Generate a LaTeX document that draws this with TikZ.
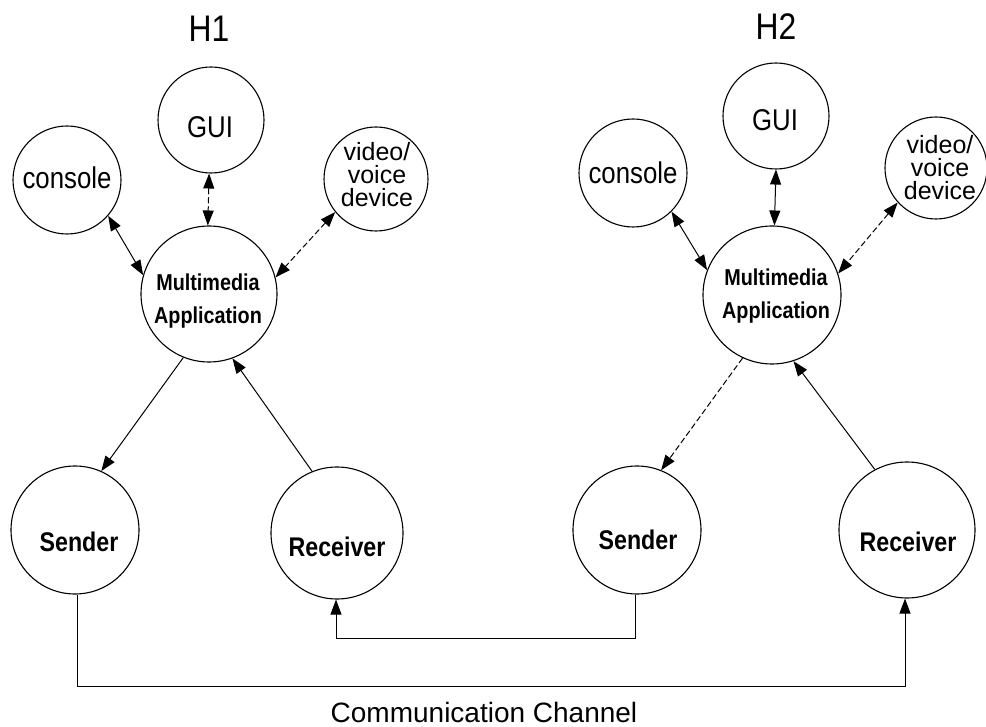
\documentclass[tikz,border=0pt]{standalone}
\usepackage{fontspec}
\setmainfont{Liberation Sans}
\newfontfamily\nfont[FakeStretch=0.86]{Liberation Sans}
\usetikzlibrary{arrows.meta}
\tikzset{
  circ/.style={circle,draw,line width=1.1pt,inner sep=0pt,minimum size=#1},
  lbl/.style={inner sep=0pt,align=center},
  conn/.style={line width=1pt},
  tip/.style={-{Triangle[length=15pt,width=11pt]}},
  dtip/.style={{Triangle[length=15pt,width=11pt]}-{Triangle[length=15pt,width=11pt]}},
  dsh/.style={dash pattern=on 6pt off 3pt},
  hfont/.style={font=\nfont\fontsize{37}{37}\selectfont},
  rfont/.style={font=\nfont\fontsize{30}{30}\selectfont},
  vfont/.style={font=\fontsize{25}{23}\selectfont},
  mfont/.style={font=\nfont\bfseries\fontsize{23}{33}\selectfont},
  bfont/.style={font=\nfont\bfseries\fontsize{27}{27}\selectfont},
}
\begin{document}
\begin{tikzpicture}[x=1pt,y=-1pt]
\useasboundingbox (0,0) rectangle (986,727);
% ---------- H1 ----------
\node[lbl,hfont] (h1) at (209,29) {H1};
\node[circ=106pt] (gui1) at (211,120) {};
\node[lbl,rfont] (gui1t) at (210,127) {GUI};
\node[circ=108pt] (con1) at (67,180) {};
\node[lbl,rfont] (con1t) at (67,178) {console};
\node[circ=104pt] (vid1) at (376,179) {};
\node[lbl,vfont] (vid1t) at (377,175) {video/\\voice\\device};
\node[circ=136pt] (mm1) at (209,294) {};
\node[lbl,mfont] (mm1t) at (208,301) {Multimedia\\Application};
\node[circ=128pt] (snd1) at (75,530) {};
\node[lbl,bfont] (snd1t) at (79,542) {Sender};
\node[circ=132pt] (rcv1) at (337,533) {};
\node[lbl,bfont] (rcv1t) at (337,547) {Receiver};
% ---------- H2 ----------
\node[lbl,hfont] (h2) at (776,27) {H2};
\node[circ=106pt] (gui2) at (776,116) {};
\node[lbl,rfont] (gui2t) at (775,120) {GUI};
\node[circ=108pt] (con2) at (633,173) {};
\node[lbl,rfont] (con2t) at (633,173) {console};
\node[circ=102pt] (vid2) at (936,168) {};
\node[lbl,vfont] (vid2t) at (940,168) {video/\\voice\\device};
\node[circ=138pt] (mm2) at (772,295) {};
\node[lbl,mfont] (mm2t) at (776,296) {Multimedia\\Application};
\node[circ=128pt] (snd2) at (637,530) {};
\node[lbl,bfont] (snd2t) at (638,540) {Sender};
\node[circ=136pt] (rcv2) at (907,530) {};
\node[lbl,bfont] (rcv2t) at (908,542) {Receiver};
% ---------- channel label ----------
\node[lbl,font=\fontsize{28}{28}\selectfont] (chan) at (484,712) {Communication Channel};
% ---------- connectors H1 ----------
\draw[conn,dtip,dsh] (gui1.268) -- (mm1.91);
\draw[conn,dtip] (con1.319) -- (mm1.164);
\draw[conn,dtip,dsh] (vid1.219) -- (mm1.14);
\draw[conn,tip] (mm1.248) -- (snd1.66);
\draw[conn,tip] (rcv1.112) -- (mm1.290);
% ---------- connectors H2 ----------
\draw[conn,dtip] (gui2.270) -- (mm2.88);
\draw[conn,dtip] (con2.315) -- (mm2.159);
\draw[conn,dtip,dsh] (vid2.222) -- (mm2.18);
\draw[conn,tip,dsh] (mm2.245) -- (snd2.68);
\draw[conn,tip] (rcv2.118) -- (mm2.288);
% ---------- channel ----------
\coordinate (c1) at (77,686);
\coordinate (c2) at (905,686);
\coordinate (c3) at (635,638);
\coordinate (c4) at (336,638);
\draw[conn,tip] (snd1.south -| c1) -- (c1) -- (c2) -- (rcv2.south -| c2);
\draw[conn,tip] (snd2.south -| c3) -- (c3) -- (c4) -- (rcv1.south -| c4);
\end{tikzpicture}
\end{document}
